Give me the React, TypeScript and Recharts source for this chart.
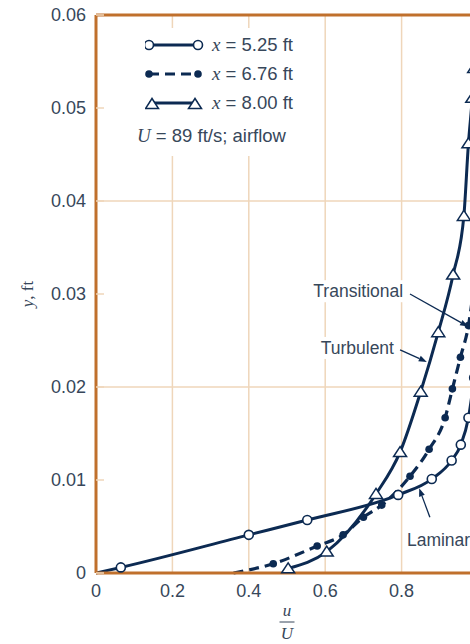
import { LineChart, Line, XAxis, YAxis, ReferenceLine, ReferenceDot, Legend } from 'recharts';

// u/U and y (ft), one pair of arrays per station
const lamU = [0, 0.065, 0.4, 0.553, 0.791, 0.879, 0.931, 0.955, 0.975, 0.99];
const lamY = [0, 0.0006, 0.0041, 0.0057, 0.0084, 0.0101, 0.0121, 0.0138, 0.0167, 0.021];
const transU = [0.36, 0.464, 0.579, 0.647, 0.7, 0.748, 0.822, 0.872, 0.914, 0.933, 0.954, 0.975, 0.99];
const transY = [0, 0.001, 0.0029, 0.0041, 0.006, 0.0073, 0.0104, 0.0133, 0.0167, 0.0198, 0.0232, 0.0266, 0.031];
const turbU = [0.503, 0.604, 0.733, 0.796, 0.85, 0.896, 0.935, 0.963, 0.975, 0.985, 0.99];
const turbY = [0.0005, 0.0023, 0.0085, 0.013, 0.0195, 0.0259, 0.0321, 0.0384, 0.0462, 0.0511, 0.0543];

const stations = ['5.25', '6.76', '8.00'];
const flowNote = '89 ft/s; airflow';

const xTicks = [0, 0.2, 0.4, 0.6, 0.8];
const yTicks = [0, 0.01, 0.02, 0.03, 0.04, 0.05, 0.06];
const xGrid = [0.2, 0.4, 0.6, 0.8, 1];
const yGrid = [0.02, 0.04];

const annotations = [
  { text: 'Transitional', at: [0.804, 0.0303], anchor: 'end', from: [0.822, 0.03], to: [0.974, 0.0265] },
  { text: 'Turbulent', at: [0.78, 0.0242], anchor: 'end', from: [0.796, 0.024], to: [0.866, 0.0227] },
  { text: 'Laminar', at: [0.814, 0.0036], anchor: 'start', from: [0.874, 0.006], to: [0.846, 0.0091] },
];

const toRows = (us: number[], ys: number[]) => us.map((u, i) => ({ u, y: ys[i] }));
const lamData = toRows(lamU, lamY);
const transData = toRows(transU, transY);
const turbData = toRows(turbU, turbY);

const NAVY = '#0c2a52';
const AXIS = '#c0702c';
const GRID = '#efd6ba';
const TEXT = '#37475a';
const SANS = '"Liberation Sans", Arial, sans-serif';
const SERIF = '"Liberation Serif", "Times New Roman", serif';

const OpenCircle = (p: any) => {
  if (p.payload.y === 0) return <g key={`o-${p.index}`} />;
  return <circle key={`o-${p.index}`} cx={p.cx} cy={p.cy} r={4.5} fill="#fff" stroke={NAVY} strokeWidth={1.6} />;
};

const FilledDot = (p: any) => {
  if (p.payload.y === 0) return <g key={`f-${p.index}`} />;
  return <circle key={`f-${p.index}`} cx={p.cx} cy={p.cy} r={3.8} fill={NAVY} stroke="none" />;
};

const triPoints = (cx: number, cy: number) =>
  `${cx},${cy - 5.5} ${cx - 6.5},${cy + 4.5} ${cx + 6.5},${cy + 4.5}`;

const Triangle = (p: any) => (
  <polygon key={`t-${p.index}`} points={triPoints(p.cx, p.cy)} fill="#fff" stroke={NAVY} strokeWidth={1.5} />
);

const Arrow = (p: any) => {
  const { x1, y1, x2, y2 } = p;
  const a = Math.atan2(y2 - y1, x2 - x1);
  const len = 8;
  const w = 3;
  const bx = x2 - len * Math.cos(a);
  const by = y2 - len * Math.sin(a);
  const px = -Math.sin(a) * w;
  const py = Math.cos(a) * w;
  return (
    <g>
      <line x1={x1} y1={y1} x2={bx} y2={by} stroke={NAVY} strokeWidth={1.3} />
      <polygon points={`${x2},${y2} ${bx + px},${by + py} ${bx - px},${by - py}`} fill={NAVY} />
    </g>
  );
};

const NoteLabel = (text: string, anchor: string) => (p: any) => {
  const w = text.length * 17.5 * 0.55;
  const x0 = anchor === 'end' ? p.cx - w : p.cx;
  return (
    <g>
      <rect x={x0 - 2} y={p.cy - 11} width={w + 4} height={22} fill="#fff" />
      <text x={p.cx} y={p.cy} dy="0.35em" textAnchor={anchor as any} fontFamily={SANS} fontSize={17.5} fill={TEXT}>
        {text}
      </text>
    </g>
  );
};

const Sample = ({ kind }: { kind: number }) => (
  <svg width={60} height={16} style={{ position: 'absolute', left: 15, top: -8 }}>
    <line x1={4} y1={8} x2={53} y2={8} stroke={NAVY} strokeWidth={3.2} strokeDasharray={kind === 1 ? '10 6' : undefined} />
    {kind === 0 && [4, 53].map((x) => <circle key={x} cx={x} cy={8} r={4.5} fill="#fff" stroke={NAVY} strokeWidth={1.6} />)}
    {kind === 1 && [4, 53].map((x) => <circle key={x} cx={x} cy={8} r={3.8} fill={NAVY} />)}
    {kind === 2 && [7, 50].map((x) => <polygon key={x} points={triPoints(x, 9)} fill="#fff" stroke={NAVY} strokeWidth={1.5} />)}
  </svg>
);

const LegendBox = () => (
  <div style={{ position: 'relative', width: 185, height: 128, background: '#fff', color: TEXT, fontFamily: SANS, fontSize: 18.5 }}>
    {stations.map((s, i) => (
      <div key={s} style={{ position: 'absolute', left: 0, top: 17 + i * 29, width: 185 }}>
        <Sample kind={i} />
        <span style={{ position: 'absolute', left: 82, top: -12, whiteSpace: 'nowrap', lineHeight: '23px' }}>
          <i style={{ fontFamily: SERIF, fontSize: 19 }}>x</i> = {s} ft
        </span>
      </div>
    ))}
    <span style={{ position: 'absolute', left: 7, top: 96, whiteSpace: 'nowrap', lineHeight: '23px' }}>
      <i style={{ fontFamily: SERIF, fontSize: 19 }}>U</i> = {flowNote}
    </span>
  </div>
);

const XLabel = (p: any) => {
  const { x, y, width } = p.viewBox;
  const cx = x + width / 2;
  return (
    <g fontFamily={SERIF} fontSize={17} fill={TEXT} fontStyle="italic">
      <text x={cx} y={y + 43} textAnchor="middle">u</text>
      <line x1={cx - 7.5} y1={y + 49} x2={cx + 7.5} y2={y + 49} stroke={TEXT} strokeWidth={1} />
      <text x={cx} y={y + 66} textAnchor="middle">U</text>
    </g>
  );
};

const YLabel = (p: any) => {
  const { y, height } = p.viewBox;
  const cy = y + height / 2;
  return (
    <text x={27} y={cy} transform={`rotate(-90, 27, ${cy})`} textAnchor="middle" dy="0.35em" fontFamily={SERIF} fontSize={17} fill={TEXT}>
      <tspan fontStyle="italic">y</tspan>, ft
    </text>
  );
};

const tickStyle = { fontFamily: SANS, fontSize: 18, fill: TEXT };

export default function App() {
  return (
    <div style={{ position: 'fixed', left: 0, top: 0, width: 470, height: 644, overflow: 'hidden', background: '#fff' }}>
      <LineChart width={500} height={644} margin={{ top: 15, right: 22, bottom: 0, left: 0 }}>
        {xGrid.map((v) => (
          <ReferenceLine key={`gx-${v}`} x={v} stroke={GRID} strokeWidth={1.5} />
        ))}
        {yGrid.map((v) => (
          <ReferenceLine key={`gy-${v}`} y={v} stroke={GRID} strokeWidth={1.5} />
        ))}
        <XAxis
          dataKey="u"
          type="number"
          domain={[0, 1]}
          ticks={xTicks}
          interval={0}
          height={71}
          tickLine={false}
          tickSize={6}
          tickMargin={5}
          axisLine={{ stroke: AXIS, strokeWidth: 3 }}
          tick={tickStyle}
          tickFormatter={(v: number) => (v === 0 ? '0' : v.toFixed(1))}
          label={{ content: XLabel }}
        />
        <YAxis
          type="number"
          domain={[0, 0.06]}
          ticks={yTicks}
          interval={0}
          width={96}
          tickSize={-8}
          tickMargin={18}
          tickLine={{ stroke: GRID, strokeWidth: 1.5 }}
          axisLine={{ stroke: AXIS, strokeWidth: 3 }}
          tick={tickStyle}
          tickFormatter={(v: number) => (v === 0 ? '0' : v.toFixed(2))}
          label={{ content: YLabel }}
        />
        <ReferenceLine y={0.06} stroke={AXIS} strokeWidth={3} />
        {annotations.map((a) => (
          <ReferenceDot key={a.text} x={a.at[0]} y={a.at[1]} shape={NoteLabel(a.text, a.anchor)} />
        ))}
        {annotations.map((a) => (
          <ReferenceLine
            key={`arr-${a.text}`}
            segment={[{ x: a.from[0], y: a.from[1] }, { x: a.to[0], y: a.to[1] }]}
            shape={Arrow}
          />
        ))}
        <Line data={lamData} dataKey="y" type="monotone" stroke={NAVY} strokeWidth={3} dot={OpenCircle} activeDot={false} isAnimationActive={false} />
        <Line data={transData} dataKey="y" type="monotone" stroke={NAVY} strokeWidth={3.2} strokeDasharray="10 6" dot={FilledDot} activeDot={false} isAnimationActive={false} />
        <Line data={turbData} dataKey="y" type="monotone" stroke={NAVY} strokeWidth={3} dot={Triangle} activeDot={false} isAnimationActive={false} />
        <Legend
          layout="vertical"
          align="center"
          verticalAlign="middle"
          content={() => <LegendBox />}
          wrapperStyle={{ position: 'absolute', left: 130, top: 28, width: 185, height: 128 }}
        />
      </LineChart>
    </div>
  );
}
